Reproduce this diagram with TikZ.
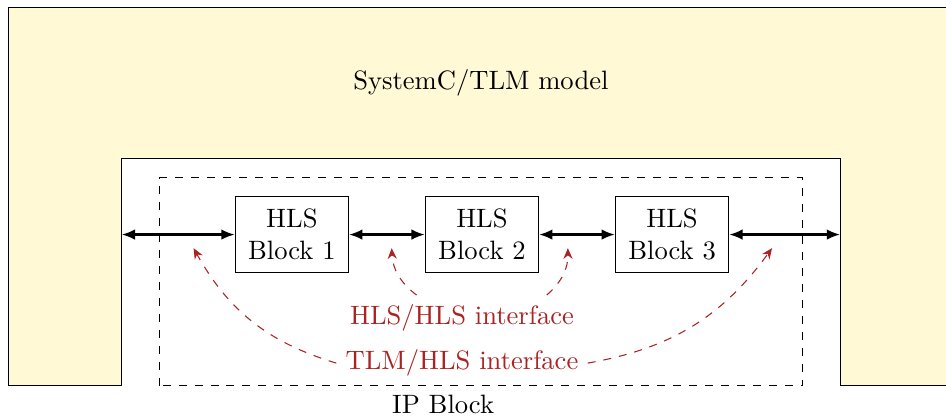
\documentclass[tikz,border=0pt]{standalone}
\usepackage{tikz}
\usetikzlibrary{arrows.meta, positioning}
\definecolor{tlmyellow}{RGB}{255,249,214}
\definecolor{ifred}{RGB}{170,34,34}

\begin{document}
\begin{tikzpicture}[
    node distance=1cm,
    hlsbox/.style={rectangle, draw, minimum width=1.5cm, minimum height=1cm, align=center},
    barrow/.style={{Latex[length=5pt, width=4pt]}-{Latex[length=5pt, width=4pt]}, thick},
    iflabel/.style={text=ifred},
    ifarrow/.style={-{Stealth[length=4pt, width=3.4pt]}, dashed, ifred}
]
\useasboundingbox (-3.86,-2.414) rectangle (8.651,3.102);
\draw[fill=tlmyellow] (-3.75,-2) |- (8.75,3) |- (7.25,-2) |- (-2.25,1) |- (-3.75,-2) -- cycle;
\draw[dashed] (-1.75,-2) rectangle (6.75,0.75);
\node (model) at (2.5,2) {SystemC/TLM model};
\node[anchor=north] (ip) at (2,-2) {IP Block};
\node[hlsbox] (b1) at (0,0) {HLS\\Block 1};
\node[hlsbox, right=of b1] (b2) {HLS\\Block 2};
\node[hlsbox, right=of b2] (b3) {HLS\\Block 3};
\coordinate (inl) at (-2.25,0);
\coordinate (inr) at (7.25,0);
\draw[barrow] (inl) -- (b1);
\draw[barrow] (b1) -- (b2);
\draw[barrow] (b2) -- (b3);
\draw[barrow] (b3) -- (inr);
\node[iflabel, anchor=south] (tlmif) at (2.25,-2) {TLM/HLS interface};
\node[iflabel, above=0pt of tlmif] (hlsif) {HLS/HLS interface};
\coordinate (t1) at (-1.3,-0.18);
\coordinate (t2) at (1.32,-0.18);
\coordinate (t3) at (3.65,-0.18);
\coordinate (t4) at (6.35,-0.18);
\draw[ifarrow] (tlmif.west) to[bend left=22] (t1);
\draw[ifarrow] (tlmif.east) to[bend right=22] (t4);
\draw[ifarrow] ([xshift=-0.6cm]hlsif.north) to[bend left=25] (t2);
\draw[ifarrow] ([xshift=1.12cm]hlsif.north) to[bend right=25] (t3);
\end{tikzpicture}
\end{document}
